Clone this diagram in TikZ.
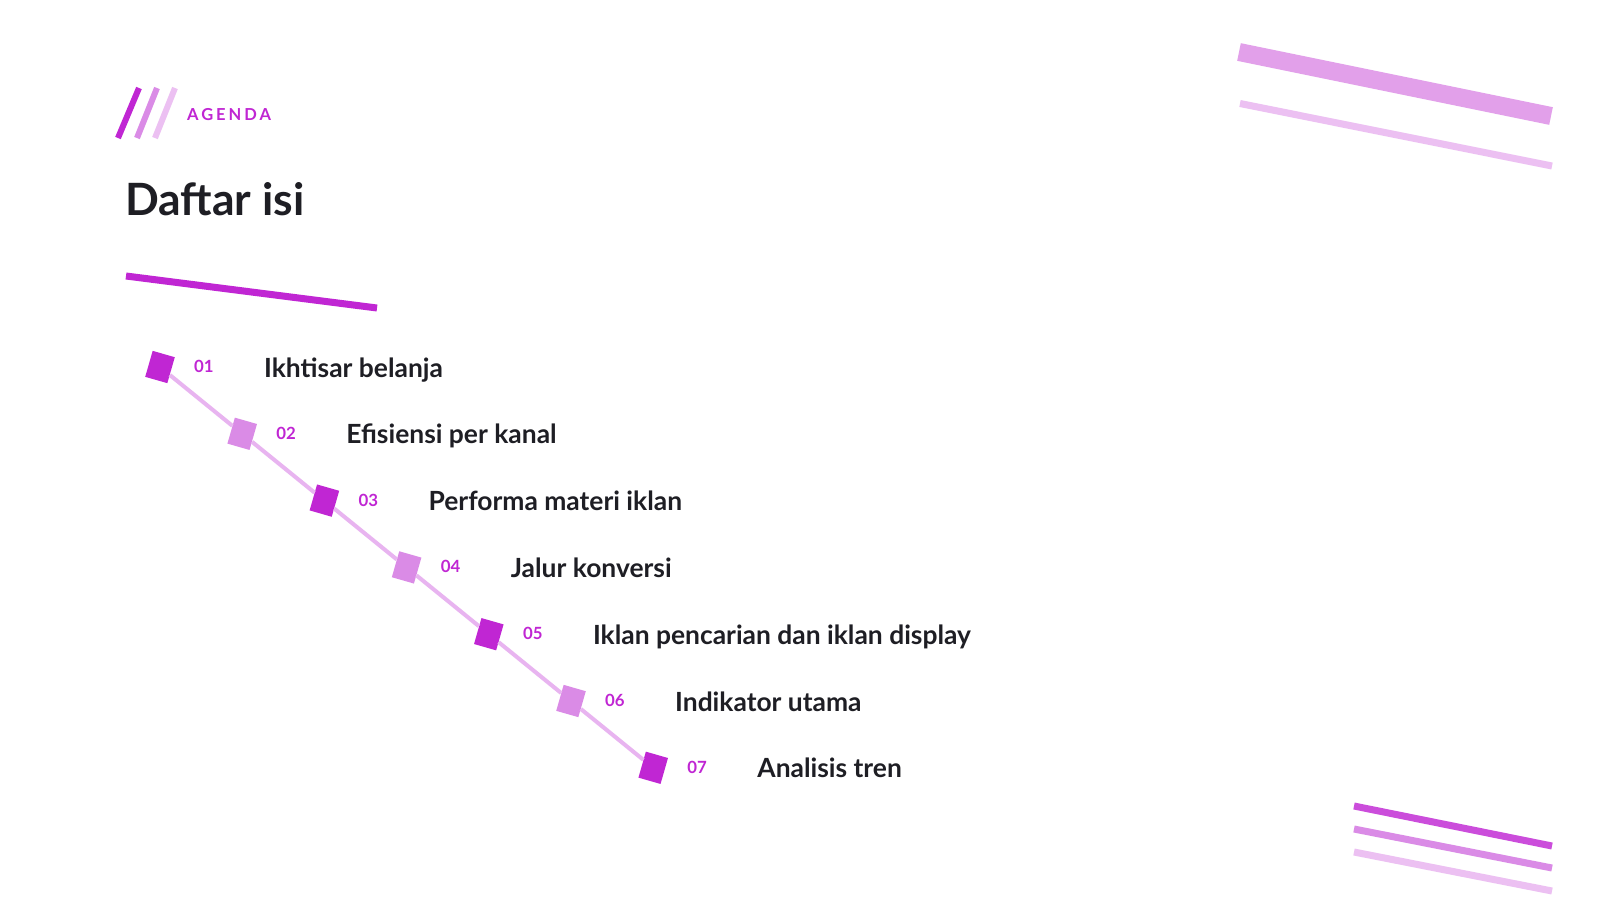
\documentclass[tikz,border=0pt]{standalone}
\usepackage{fontspec}
\setmainfont{Lato}
\newfontfamily\spacedfont{Lato}[LetterSpace=18]
\definecolor{fuchsia}{HTML}{C026D3}
\definecolor{orchid}{HTML}{DA8BE6}
\definecolor{lilac}{HTML}{ECC0F2}
\definecolor{barpink}{HTML}{E2A0EA}
\definecolor{linkpink}{HTML}{E8B4F0}
\definecolor{ink}{HTML}{1E1E24}
\begin{document}
\begin{tikzpicture}[x=1pt, y=-1pt,
    markdark/.style={fill=fuchsia, minimum width=23pt, minimum height=27pt, inner sep=0pt, rotate=-16},
    marklight/.style={markdark, fill=orchid},
    numlabel/.style={anchor=base west, inner sep=0pt, text=fuchsia, font=\bfseries\fontsize{16.8}{18}\selectfont},
    itemlabel/.style={anchor=base west, inner sep=0pt, text=ink, font=\bfseries\fontsize{26.4}{28}\selectfont},
    link/.style={linkpink, line width=4pt}]
    \useasboundingbox[fill=white] (0, 0) rectangle (1598, 900);

    % header
    \draw[fuchsia, line width=6pt] (118, 138) -- (139, 88);
    \draw[orchid, line width=6pt] (137, 138) -- (157, 88);
    \draw[lilac, line width=6pt] (155, 138) -- (175, 88);
    \node[anchor=base west, inner sep=0pt, text=fuchsia] (agenda) at (187, 120)
        {\spacedfont\bfseries\fontsize{16.5}{18}\selectfont AGENDA};
    \node[anchor=base west, inner sep=0pt, text=ink] (title) at (125, 215)
        {\bfseries\fontsize{44.5}{50}\selectfont Daftar isi};
    \draw[fuchsia, line width=7pt] (126, 276) -- (377, 308);

    % corner bars
    \draw[barpink, line width=18pt] (1239, 52) -- (1551, 116);
    \draw[lilac, line width=7pt] (1240, 103.5) -- (1552, 166);
    \draw[fuchsia!82!white, line width=7pt] (1354, 806) -- (1552, 846);
    \draw[orchid, line width=7pt] (1354, 829) -- (1552, 868);
    \draw[lilac, line width=7pt] (1354, 852) -- (1552, 891);

    % markers
    \node[markdark] (s1) at (160, 367) {};
    \node[marklight] (s2) at (242.2, 433.8) {};
    \node[markdark] (s3) at (324.4, 500.6) {};
    \node[marklight] (s4) at (406.6, 567.4) {};
    \node[markdark] (s5) at (488.8, 634.2) {};
    \node[marklight] (s6) at (571, 701) {};
    \node[markdark] (s7) at (653.2, 767.8) {};
    \draw[link] (s1) -- (s2);
    \draw[link] (s2) -- (s3);
    \draw[link] (s3) -- (s4);
    \draw[link] (s4) -- (s5);
    \draw[link] (s5) -- (s6);
    \draw[link] (s6) -- (s7);

    % entries
    \node[numlabel] (n1) at (194, 372.5) {01};
    \node[itemlabel] (t1) at (264, 377) {Ikhtisar belanja};
    \node[numlabel] (n2) at (276.2, 439.3) {02};
    \node[itemlabel] (t2) at (346.2, 443.8) {Efisiensi per kanal};
    \node[numlabel] (n3) at (358.4, 506.1) {03};
    \node[itemlabel] (t3) at (428.4, 510.6) {Performa materi iklan};
    \node[numlabel] (n4) at (440.6, 572.9) {04};
    \node[itemlabel] (t4) at (510.6, 577.4) {Jalur konversi};
    \node[numlabel] (n5) at (522.8, 639.7) {05};
    \node[itemlabel] (t5) at (592.8, 644.2) {Iklan pencarian dan iklan display};
    \node[numlabel] (n6) at (605, 706.5) {06};
    \node[itemlabel] (t6) at (675, 711) {Indikator utama};
    \node[numlabel] (n7) at (687.2, 773.3) {07};
    \node[itemlabel] (t7) at (757.2, 777.8) {Analisis tren};
\end{tikzpicture}
\end{document}
